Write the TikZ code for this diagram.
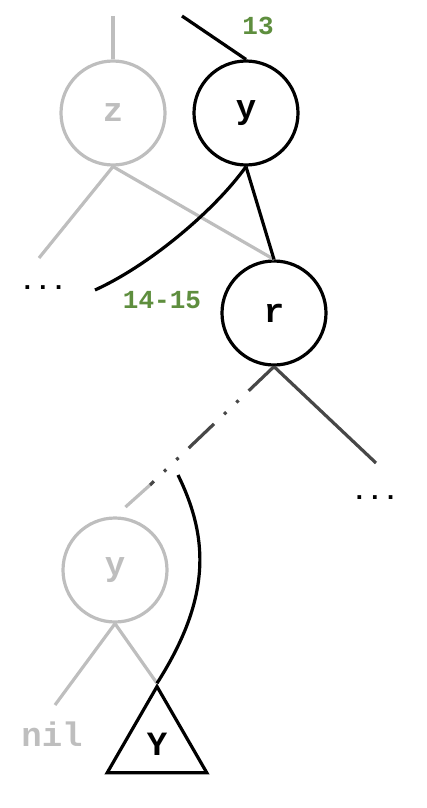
\documentclass[tikz,border=0pt]{standalone}
\usepackage{fontspec}
\setmonofont{Liberation Mono}
\usetikzlibrary{shapes.geometric}
\definecolor{labgreen}{HTML}{5E8E3E}
\definecolor{ghost}{HTML}{BEBEBE}
\definecolor{dim}{HTML}{474747}
\tikzset{
  key/.style={circle, draw, line width=3.2pt, minimum size=104pt, inner sep=0pt, font=\ttfamily\bfseries\fontsize{34}{34}\selectfont},
  edge/.style={line width=3.2pt},
  lab/.style={text=labgreen, font=\ttfamily\bfseries\fontsize{26}{26}\selectfont},
  txt/.style={font=\ttfamily\bfseries\fontsize{26}{26}\selectfont},
}
\begin{document}
\begin{tikzpicture}[x=1pt, y=-1pt]
        \useasboundingbox (0,0) rectangle (427,808);

        \node[key, draw=ghost, text=ghost] (z) at (113,113) {z};
        \node[key] (y) at (246,113) {y};
        \node[key] (r) at (274,313) {r};
        \node[key, draw=ghost, text=ghost] (gy) at (115,570) {y};
        \node[regular polygon, regular polygon sides=3, draw, line width=3.2pt, minimum size=115pt, inner sep=0pt,
              font=\ttfamily\bfseries\fontsize{34}{34}\selectfont] (tri) at (157,744) {Y};

        \node[lab] (l13) at (258,26) {13};
        \node[lab] (l1415) at (162,300) {14-15};
        \node[txt] (dots1) at (43,288) {...};
        \node[txt] (dots2) at (375,498) {...};
        \node[txt, text=ghost, font=\ttfamily\bfseries\fontsize{34}{34}\selectfont] (nil) at (52,734) {nil};

        \coordinate (ztop) at (113,16);
        \coordinate (ytop) at (182,16);
        \coordinate (zl) at (39,258);
        \coordinate (cut) at (95,290);
        \coordinate (rr) at (376,463);
        \coordinate (fade) at (150,485);
        \coordinate (bend) at (178,475);
        \coordinate (gl) at (55,705);

        % old links
        \draw[edge, ghost] (ztop) -- (z.north);
        \draw[edge, ghost] (z.south) -- (zl);
        \draw[edge, ghost] (z.south) -- (r.north);
        \draw[edge, ghost] (gy.south) -- (gl);
        \draw[edge, ghost] (gy.south) -- (tri.corner 1);
        \draw[edge, ghost, shorten >=14pt] (fade) -- (gy.north);
        \draw[edge, dim, dash pattern=on 35pt off 14pt on 3pt off 14pt on 3pt off 14pt] (r.south) -- (fade);
        \draw[edge, dim] (r.south) -- (rr);

        % new links
        \draw[edge] (ytop) -- (y.north);
        \draw[edge] (y.south) -- (r.north);
        \draw[edge] (y.south) .. controls (215,210) and (150,265) .. (cut);
        \draw[edge] (bend) .. controls (210,540) and (210,600) .. (tri.corner 1);
    \end{tikzpicture}
\end{document}
